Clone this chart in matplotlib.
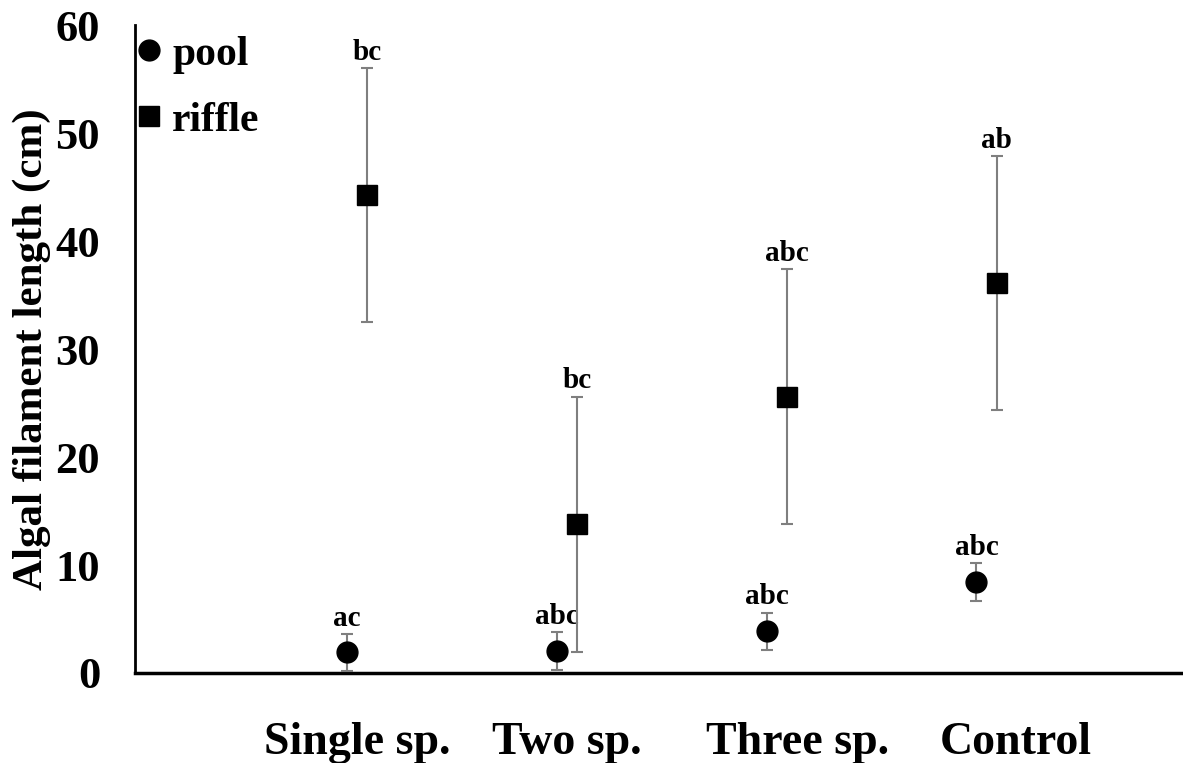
import numpy as np
import matplotlib.pyplot as plt

plt.rcParams['font.family'] = ['Liberation Serif', 'DejaVu Serif']
plt.rcParams['font.weight'] = 'bold'

# Data
categories = ['Single sp.', 'Two sp.', 'Three sp.', 'Control']
label_pos = [1.0, 2.0, 3.1, 4.14]

pool_mean = [1.9, 2.0, 3.9, 8.4]
pool_low = [0.2, 0.3, 2.1, 6.7]
pool_high = [3.6, 3.8, 5.6, 10.2]
pool_letters = ['ac', 'abc', 'abc', 'abc']

riffle_mean = [44.3, 13.8, 25.6, 36.1]
riffle_low = [32.5, 1.9, 13.8, 24.4]
riffle_high = [56.0, 25.6, 37.4, 47.9]
riffle_letters = ['bc', 'bc', 'abc', 'ab']

x = np.arange(1, len(categories) + 1)
off = 0.048

fig = plt.figure(figsize=(11.83, 7.63), dpi=100)
ax = fig.add_axes([0.114, 0.118, 0.885, 0.849])

def draw(xs, mean, low, high, marker, label, letters):
    mean = np.array(mean)
    yerr = [mean - np.array(low), np.array(high) - mean]
    ax.errorbar(xs, mean, yerr=yerr, fmt=marker, color='black', ms=15,
                ecolor='#7f7f7f', elinewidth=1.5, capsize=4.5, capthick=1.5,
                label=label, zorder=3)
    for xi, hi, t in zip(xs, high, letters):
        ax.annotate(t, (xi, hi), xytext=(0, 1.5), textcoords='offset points',
                    ha='center', va='bottom', fontsize=21, fontweight='bold')

draw(x - off, pool_mean, pool_low, pool_high, 'o', 'pool', pool_letters)
draw(x + off, riffle_mean, riffle_low, riffle_high, 's', 'riffle', riffle_letters)

ax.set_xlim(-0.057, 4.93)
ax.set_ylim(0, 60)
ax.set_yticks(range(0, 61, 10))
ax.set_xticks(label_pos)
ax.set_xticklabels(categories, fontsize=33, fontweight='bold')
ax.tick_params(axis='x', length=0, pad=35)
ax.tick_params(axis='y', length=0, pad=25, labelsize=32)
for lab in ax.get_yticklabels():
    lab.set_fontweight('bold')
ax.set_ylabel('Algal filament length (cm)', fontsize=31, fontweight='bold', labelpad=3)

for s in ['top', 'right']:
    ax.spines[s].set_visible(False)
ax.spines['left'].set_linewidth(2)
ax.spines['bottom'].set_linewidth(2.5)

h, l = ax.get_legend_handles_labels()
h = [hh[0] for hh in h]
ax.legend(h, l, loc='upper left', frameon=False, fontsize=30, handlelength=0.5,
          handletextpad=0.3, borderaxespad=0.0, borderpad=0.1, labelspacing=0.67,
          bbox_to_anchor=(0.0, 0.99))

fig.savefig('out.png', dpi=100, facecolor='white')
